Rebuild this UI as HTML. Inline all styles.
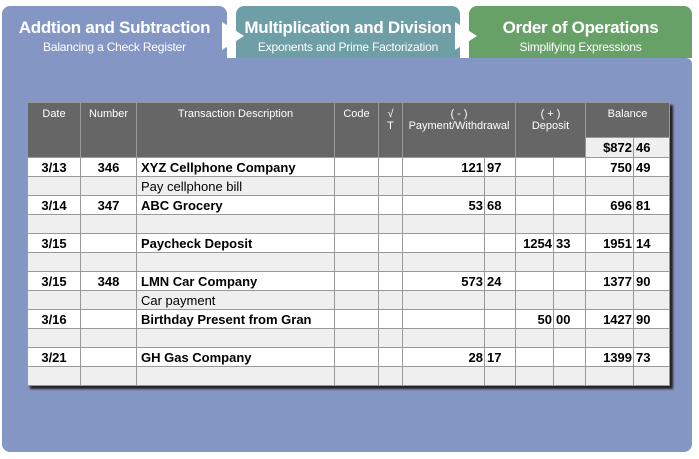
<!DOCTYPE html>
<html><head><meta charset="utf-8"><style>
body{margin:0;width:699px;height:459px;background:#fff;position:relative;overflow:hidden;font-family:"Liberation Sans",Arial,sans-serif}
.tab{position:absolute;top:6px;height:60px;border-radius:8px 8px 0 0;color:#fff;text-align:center}
.tab b{display:block;font-size:17px;margin-top:12px;letter-spacing:-0.3px}
.tab span{display:block;font-size:12px;margin-top:2px;letter-spacing:-0.2px}
.arrow{position:absolute;width:0;height:0;border-top:14px solid transparent;border-bottom:14px solid transparent;border-left:22px solid #fff;top:22px}
#panel{position:absolute;left:2px;top:58px;width:690px;height:394px;background:#8497c4;border-radius:0 6px 8px 8px}
table{position:absolute;left:27px;top:102px;border-collapse:collapse;table-layout:fixed;box-shadow:3px 3px 2px #222;font-size:13px}
td{border:1px solid #999;padding:0 4px;height:18px;white-space:nowrap;overflow:hidden}
tr.w td{background:#fff;font-weight:bold}
tr.g td{background:#efefef}
th{background:#666;color:#fff;font-weight:normal;font-size:11px;border:1px solid #999;vertical-align:top;padding-top:5px}
.c{text-align:center}.r{text-align:right;padding-right:1px}.l{padding-left:2px}
</style></head><body>
<div class="tab" style="left:2px;width:225px;background:#8497c4"><b>Addtion and Subtraction</b><span>Balancing a Check Register</span></div>
<div class="tab" style="left:236px;width:224px;background:#6e9ea6;height:52px"><b>Multiplication and Division</b><span>Exponents and Prime Factorization</span></div>
<div class="tab" style="left:469px;width:223px;background:#68a168;height:52px"><b>Order of Operations</b><span>Simplifying Expressions</span></div>
<div class="arrow" style="left:222px"></div>
<div class="arrow" style="left:455px"></div>
<div id="panel"></div>
<table>
<colgroup><col style="width:53px"><col style="width:56px"><col style="width:198px"><col style="width:44px"><col style="width:24px"><col style="width:82px"><col style="width:31px"><col style="width:38px"><col style="width:32px"><col style="width:48px"><col style="width:36px"></colgroup>
<tr style="height:35px"><th rowspan="2">Date</th><th rowspan="2">Number</th><th rowspan="2">Transaction Description</th><th rowspan="2">Code</th><th rowspan="2">√<br>T</th><th colspan="2" rowspan="2">( - )<br>Payment/Withdrawal</th><th colspan="2" rowspan="2">( + )<br>Deposit</th><th colspan="2">Balance</th></tr>
<tr style="height:20px"><td class="r" style="background:#efefef;font-weight:bold">$872</td><td class="l" style="background:#efefef;font-weight:bold">46</td></tr>
<tbody id="rows"></tbody>
</table>
<script>
const dates=["3/13","","3/14","","3/15","","3/15","","3/16","","3/21",""];
const numbers=["346","","347","","","","348","","","","",""];
const descs=["XYZ Cellphone Company","Pay cellphone bill","ABC Grocery","","Paycheck Deposit","","LMN Car Company","Car payment","Birthday Present from Gran","","GH Gas Company",""];
const payments=[["121","97"],null,["53","68"],null,null,null,["573","24"],null,null,null,["28","17"],null];
const deposits=[null,null,null,null,["1254","33"],null,null,null,["50","00"],null,null,null];
const balances=[["750","49"],null,["696","81"],null,["1951","14"],null,["1377","90"],null,["1427","90"],null,["1399","73"],null];
const tb=document.getElementById('rows');
dates.forEach((d,i)=>{
  const tr=document.createElement('tr');
  tr.className=i%2?'g':'w';
  
  
  const p=payments[i]||["",""],q=deposits[i]||["",""],b=balances[i]||["",""];
  const cells=[[d,'c'],[numbers[i],'c'],[descs[i],''],['',''],['',''],[p[0],'r'],[p[1],'l'],[q[0],'r'],[q[1],'l'],[b[0],'r'],[b[1],'l']];
  cells.forEach(c=>{const td=document.createElement('td');td.textContent=c[0];if(c[1])td.className=c[1];
    if(i%2&&c[0]&&c[1]==='')td.style.fontWeight='normal';
    tr.appendChild(td);});
  tb.appendChild(tr);
});
</script>
</body></html>
